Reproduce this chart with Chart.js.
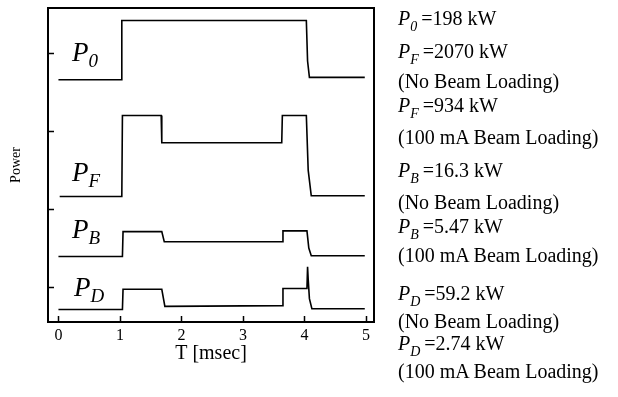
<!DOCTYPE html>
<html>
<head>
<meta charset="utf-8">
<script src="https://cdn.jsdelivr.net/npm/chart.js@4.4.1/dist/chart.umd.min.js"></script>
<style>
  body { margin: 0; background: #fff; }
  #wrap { position: relative; width: 618px; height: 397px; font-family: "Liberation Serif", "Times New Roman", serif; color: #000; }
  #wrap canvas { position: absolute; left: 0; top: 0; }
  .lbl { position: absolute; white-space: nowrap; line-height: 1; }
  .lbl i { font-style: italic; }
  .sub { position: relative; font-style: italic; }
</style>
</head>
<body>
<div id="wrap">
  <canvas id="chart" width="618" height="397"></canvas>
</div>
<script>
// axis ticks
const timeTicks = [0, 1, 2, 3, 4, 5];
const levelTicks = [0, 1, 2, 3];

// traces (time in msec, level in plot units)
const p0T = [0, 1.02, 1.03, 4.03, 4.05, 4.08, 4.98];
const p0V = [2.66, 2.66, 3.42, 3.42, 2.9, 2.69, 2.69];

const pfT = [0.02, 1.03, 1.04, 1.67, 1.68, 3.63, 3.64, 4.03, 4.06, 4.11, 4.98];
const pfV = [1.16, 1.16, 2.20, 2.20, 1.85, 1.85, 2.20, 2.20, 1.5, 1.17, 1.17];

const pbT = [0, 1.04, 1.05, 1.68, 1.72, 3.64, 3.65, 4.04, 4.07, 4.11, 4.98];
const pbV = [0.39, 0.39, 0.71, 0.71, 0.58, 0.58, 0.72, 0.72, 0.5, 0.40, 0.40];

const pdT = [0, 1.04, 1.05, 1.68, 1.73, 3.64, 3.65, 4.04, 4.05, 4.06, 4.08, 4.12, 4.98];
const pdV = [-0.29, -0.29, -0.03, -0.03, -0.25, -0.24, -0.02, -0.02, 0.26, 0.10, -0.15, -0.28, -0.28];

// labels inside the plot: [main, subscript, x, baseline]
const traceLabels = [
  ["P", "0", 72, 62],
  ["P", "F", 72, 182],
  ["P", "B", 72, 239],
  ["P", "D", 74, 297]
];

// text on the right: [subscript or null, text, baseline]
const noteLines = [
  ["0", "=198 kW", 25],
  ["F", "=2070 kW", 58],
  [null, "(No Beam Loading)", 88],
  ["F", "=934 kW", 112],
  [null, "(100 mA Beam Loading)", 144],
  ["B", "=16.3 kW", 177],
  [null, "(No Beam Loading)", 209],
  ["B", "=5.47 kW", 233],
  [null, "(100 mA Beam Loading)", 262],
  ["D", "=59.2 kW", 300],
  [null, "(No Beam Loading)", 328],
  ["D", "=2.74 kW", 350],
  [null, "(100 mA Beam Loading)", 378]
];

function pts(t, v) {
  return t.map((x, i) => ({x: x, y: v[i]}));
}

function trace(t, v) {
  return {
    data: pts(t, v),
    borderColor: "#000",
    borderWidth: 1.6,
    pointRadius: 0,
    tension: 0,
    fill: false
  };
}

// frame round the plot and inward ticks
const framePlugin = {
  id: "frame",
  afterDraw(chart) {
    const {ctx, chartArea: a, scales} = chart;
    ctx.save();
    ctx.strokeStyle = "#000";
    ctx.lineWidth = 1.5;
    ctx.beginPath();
    scales.x.ticks.forEach(t => {
      const px = Math.round(scales.x.getPixelForValue(t.value)) + 0.5;
      ctx.moveTo(px, a.bottom);
      ctx.lineTo(px, a.bottom - 6);
    });
    scales.y.ticks.forEach(t => {
      const py = Math.round(scales.y.getPixelForValue(t.value)) + 0.5;
      ctx.moveTo(a.left, py);
      ctx.lineTo(a.left + 6, py);
    });
    ctx.stroke();
    ctx.lineWidth = 2;
    ctx.strokeRect(a.left, a.top, a.right - a.left, a.bottom - a.top);
    ctx.restore();
  }
};

const serif = "'Liberation Serif', 'Times New Roman', serif";

new Chart(document.getElementById("chart"), {
  type: "line",
  data: {
    datasets: [trace(p0T, p0V), trace(pfT, pfV), trace(pbT, pbV), trace(pdT, pdV)]
  },
  options: {
    responsive: false,
    animation: false,
    layout: { padding: { top: 8, right: 244, left: 0, bottom: 0 } },
    plugins: { legend: { display: false }, tooltip: { enabled: false } },
    scales: {
      x: {
        type: "linear",
        min: -0.17,
        max: 5.13,
        grid: { display: false, drawTicks: false },
        border: { display: false },
        afterBuildTicks: s => { s.ticks = timeTicks.map(v => ({value: v})); },
        afterFit: s => { s.height = 75; },
        ticks: { color: "#000", padding: 4, font: { family: serif, size: 16 } },
        title: { display: true, text: "T [msec]", color: "#000", font: { family: serif, size: 20 }, padding: { bottom: 31 } }
      },
      y: {
        type: "linear",
        min: -0.45,
        max: 3.58,
        grid: { display: false, drawTicks: false },
        border: { display: false },
        afterBuildTicks: s => { s.ticks = levelTicks.map(v => ({value: v})); },
        afterFit: s => { s.width = 48; },
        ticks: { display: false },
        title: { display: true, text: "Power", color: "#000", font: { family: serif, size: 14 }, padding: { top: 8 } }
      }
    }
  },
  plugins: [framePlugin]
});

// html text, placed by baseline (line-height 1, Liberation Serif baseline ~0.8375em)
const wrap = document.getElementById("wrap");
function addLabel(html, x, baseline, size) {
  const d = document.createElement("div");
  d.className = "lbl";
  d.style.fontSize = size + "px";
  d.style.left = x + "px";
  d.style.top = (baseline - 0.8375 * size) + "px";
  d.innerHTML = html;
  wrap.appendChild(d);
}

traceLabels.forEach(([m, s, x, b]) => {
  addLabel(`<i>${m}</i><span class="sub" style="font-size:19px;top:6px">${s}</span>`, x, b, 27);
});

noteLines.forEach(([s, txt, b]) => {
  const html = s
    ? `<i>P</i><span class="sub" style="font-size:14px;top:6px;margin-right:4px">${s}</span>${txt}`
    : txt;
  addLabel(html, 398, b, 20);
});
</script>
</body>
</html>
